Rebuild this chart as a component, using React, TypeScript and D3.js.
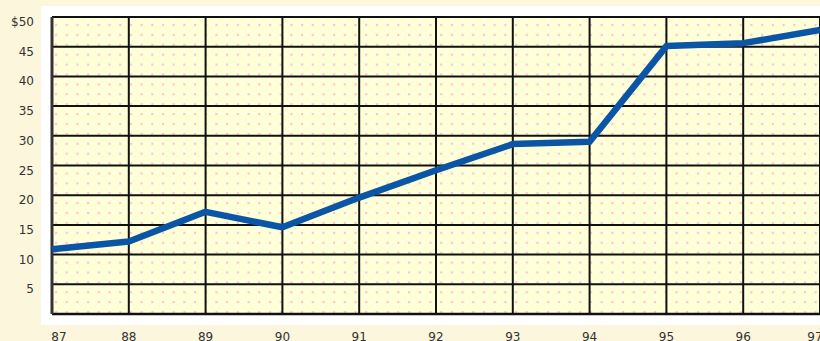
import React from "react";
import * as d3 from "d3";

const years = ["87", "88", "89", "90", "91", "92", "93", "94", "95", "96", "97"];
const prices = [10.9, 12.2, 17.2, 14.6, 19.6, 24.2, 28.6, 29.0, 45.1, 45.6, 47.8];
const yTicks = [5, 10, 15, 20, 25, 30, 35, 40, 45, 50];

const W = 820;
const H = 341;
const left = 52;
const right = 820;
const top = 17;
const bottom = 314;

export default function App() {
  const x = d3.scalePoint<string>().domain(years).range([left, right]);
  const y = d3.scaleLinear().domain([0, 50]).range([bottom, top]);
  const line = d3
    .line<number>()
    .x((_, i) => x(years[i]) as number)
    .y((d) => y(d));

  return (
    <svg
      width={W}
      height={H}
      style={{ position: "absolute", left: 0, top: 0, display: "block" }}
      fontFamily="DejaVu Sans, sans-serif"
    >
      <defs>
        <pattern id="dots" x={left} y={top} width={10.7} height={9.9} patternUnits="userSpaceOnUse">
          <rect width={10.7} height={9.9} fill="#ffffd4" />
          <rect x={2} y={1.5} width={3} height={3} fill="#fffff0" />
          <rect x={7} y={6} width={3} height={3} fill="#fffff0" />
          <rect x={3} y={7} width={2} height={2} fill="#f8c0d0" />
        </pattern>
      </defs>
      <rect width={W} height={H} fill="#fcf6dc" />
      <rect x={41} y={6} width={W - 41} height={325 - 6} fill="#ffffff" />
      <rect x={left} y={top} width={right - left} height={bottom - top} fill="url(#dots)" />
      {yTicks.map((t) => (
        <line key={"h" + t} x1={left} x2={right} y1={y(t)} y2={y(t)} stroke="#111" strokeWidth={2} />
      ))}
      <line x1={left} x2={right} y1={bottom} y2={bottom} stroke="#111" strokeWidth={2.5} />
      {years.map((yr) => (
        <line
          key={"v" + yr}
          x1={x(yr)}
          x2={x(yr)}
          y1={top}
          y2={bottom}
          stroke="#111"
          strokeWidth={2}
        />
      ))}
      <line x1={left} x2={left} y1={top} y2={bottom} stroke="#333" strokeWidth={3} />
      <path d={line(prices) || ""} fill="none" stroke="#0b55a6" strokeWidth={6.5} strokeLinejoin="round" />
      {yTicks.map((t) => (
        <text key={"yl" + t} x={34} y={y(t) + 9} textAnchor="end" fontSize={12} fill="#333">
          {t === 50 ? "$50" : String(t)}
        </text>
      ))}
      {years.map((yr) => {
        const px = Math.min(Math.max(x(yr) as number, 59), 815);
        return (
          <text key={"xl" + yr} x={px} y={341} textAnchor="middle" fontSize={12} fill="#333">
            {yr}
          </text>
        );
      })}
    </svg>
  );
}
